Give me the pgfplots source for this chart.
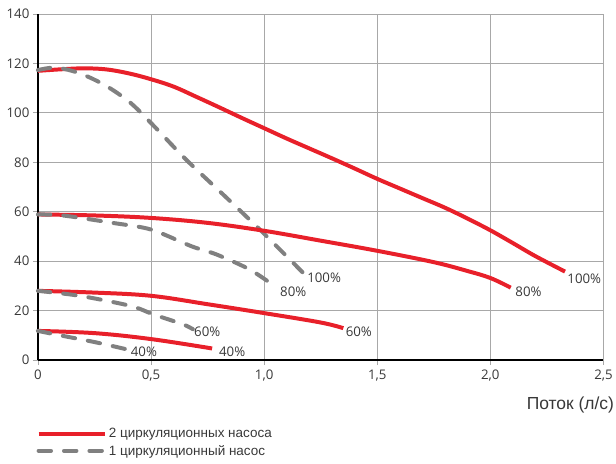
\documentclass[border=0pt]{standalone}
\usepackage{fontspec}
\setmainfont{Open Sans}
\newfontfamily\arialf{Liberation Sans}
\usepackage{pgfplots}
\pgfplotsset{compat=1.18}
\definecolor{cred}{HTML}{E8202A}
\definecolor{cgray}{HTML}{808080}
\definecolor{cgrid}{HTML}{A8A8A8}
\definecolor{ctext}{HTML}{383838}
\begin{document}
\begin{tikzpicture}
\begin{axis}[
  scale only axis, width=567pt, height=347pt,
  xmin=0, xmax=2.5, ymin=0, ymax=140,
  xtick={0,0.5,1,1.5,2,2.5},
  xticklabels={0,{0,5},{1,0},{1,5},{2,0},{2,5}},
  ytick={0,20,40,60,80,100,120,140},
  /pgf/number format/assume math mode=true,
  grid=major,
  grid style={color=cgrid, line width=0.8pt},
  axis x line*=bottom, axis y line*=left,
  x axis line style={-, black, line width=2.8pt},
  y axis line style={-, black, line width=2.4pt},
  tick align=outside, major tick length=5pt,
  tick style={color=cgrid, line width=0.8pt},
  ticklabel style={font=\fontsize{13.3}{15}\selectfont, text=ctext},
  xticklabel style={yshift=-1pt},
  clip=false,
  legend cell align=left,
  legend style={at={(axis description cs:-0.008,-0.186)}, anchor=north west, draw=none, fill=none,
    font=\arialf\fontsize{13.5}{15}\selectfont, text=ctext, row sep=3pt,
    nodes={inner sep=1.5pt}},
  legend image code/.code={\draw[#1] (0pt,0pt) -- (67pt,0pt);},
]
% red: 2 pumps
\addplot[cred, line width=4pt, smooth, tension=0.6] coordinates {
 (0,117) (0.1,117.6) (0.2,118) (0.3,117.6) (0.4,116) (0.5,113.6) (0.6,110.6) (0.7,106.5) (0.8,102.3) (0.9,98) (1.0,93.8) (1.1,89.6) (1.2,85.6) (1.3,81.6) (1.4,77.5) (1.5,73.3) (1.6,69.4) (1.7,65.5) (1.8,61.6) (1.9,57.2) (2.0,52.5) (2.1,47.3) (2.2,42) (2.33,35.8)};
\addlegendentry{2 циркуляционных насоса}
\addplot[cgray, line width=4pt, line cap=round, dash pattern=on 12.5pt off 13pt, smooth, tension=0.5] coordinates {
 (0,117.3) (0.08,118.3) (0.185,116) (0.3,111) (0.41,104) (0.52,94) (0.656,81) (0.83,66) (0.99,52) (1.17,35.5)};
\addlegendentry{1 циркуляционный насос}
\addplot[cred, line width=4pt, smooth, tension=0.6, forget plot] coordinates {
 (0,58.9) (0.25,58.5) (0.5,57.5) (0.75,55.5) (1.0,52.3) (1.25,48.3) (1.5,44.2) (1.75,39.6) (1.9,36) (2.0,33.2) (2.09,29.3)};
\addplot[cred, line width=4pt, smooth, tension=0.6, forget plot] coordinates {
 (0,28) (0.25,27.3) (0.5,26) (0.75,22.6) (1.0,19) (1.25,15.2) (1.35,12.9)};
\addplot[cred, line width=4pt, smooth, tension=0.6, forget plot] coordinates {
 (0,11.8) (0.25,10.9) (0.5,8.5) (0.77,4.7)};
% gray: 1 pump
\addplot[cgray, line width=4pt, line cap=round, dash pattern=on 12.5pt off 13pt, smooth, tension=0.5, forget plot] coordinates {
 (0,58.9) (0.11,58.5) (0.33,55.5) (0.5,52.8) (0.68,46) (0.79,42.7) (0.935,36.7) (1.045,30)};
\addplot[cgray, line width=4pt, line cap=round, dash pattern=on 12.5pt off 13pt, smooth, tension=0.5, forget plot] coordinates {
 (0,28) (0.185,26) (0.41,21.9) (0.51,18.5) (0.64,14.5) (0.685,12.5)};
\addplot[cgray, line width=4pt, line cap=round, dash pattern=on 12.5pt off 13pt, smooth, tension=0.5, forget plot] coordinates {
 (0,11.8) (0.11,9.8) (0.26,7.1) (0.39,4.4)};
% labels
\begin{scope}[every node/.style={anchor=west, inner sep=0pt, text=ctext, font=\fontsize{13.3}{15}\selectfont}]
\node at (axis cs:2.34,32.7) {100\%};
\node at (axis cs:2.11,27.8) {80\%};
\node at (axis cs:1.36,11.3) {60\%};
\node at (axis cs:0.80,3.4) {40\%};
\node at (axis cs:1.19,33.5) {100\%};
\node at (axis cs:1.07,27.8) {80\%};
\node at (axis cs:0.69,11.3) {60\%};
\node at (axis cs:0.41,3.4) {40\%};
\end{scope}
\node[anchor=east, inner sep=0pt, text=ctext, font=\arialf\fontsize{17.5}{20}\selectfont] at (axis description cs:1.019,-0.131) {Поток (л/с)};
\end{axis}
\path ([shift={(-38pt,-104pt)}]current axis.south west) ([shift={(11pt,14pt)}]current axis.north east);
\end{tikzpicture}
\end{document}
